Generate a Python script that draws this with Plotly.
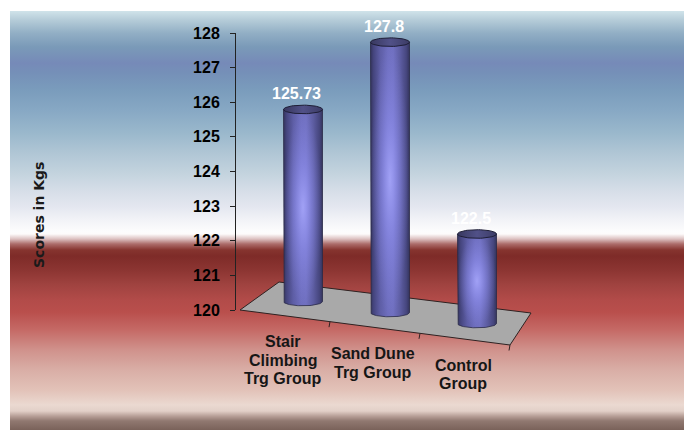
import numpy as np
import plotly.graph_objects as go

# ---- data -------------------------------------------------------------
categories = ["Stair<br>Climbing<br>Trg Group", "Sand Dune<br>Trg Group", "Control<br>Group"]
scores = [125.73, 127.8, 122.5]
score_labels = ["125.73", "127.8", "122.5"]
tick_values = [120, 121, 122, 123, 124, 125, 126, 127, 128]
y_title = "Scores in Kgs"

# ---- drawing coordinate system ---------------------------------------
W, H = 684, 430
BASE = 120
CAT_PX = 90.0          # pixels per category step
VAL_PX = 34.625        # pixels per score unit
ORIGIN_X_PX = 285.0    # screen x of the first category on the front edge
BASE_Y_PX = 310.0      # screen y of the base value on the value axis

x_range = [-ORIGIN_X_PX / CAT_PX, (W - ORIGIN_X_PX) / CAT_PX]
y_range = [BASE - (H - BASE_Y_PX) / VAL_PX, BASE + BASE_Y_PX / VAL_PX]


def px_x(px):
    return x_range[0] + px / CAT_PX


def px_y(py):
    return y_range[1] - py / VAL_PX


# simple oblique projection of the 3-D floor
N = len(scores)
FLOOR_L, FLOOR_R = -0.5, N - 0.5
FRONT_DROP = 11.67 / VAL_PX                 # front edge falls per category
DEPTH_DX = (39 / CAT_PX, 21 / CAT_PX)       # depth vector, left / right end
DEPTH_DY = (28 / VAL_PX, 32 / VAL_PX)
PERSP = (0.968, 0.033)                      # height scale grows to the right


def lerp(a, b, t):
    return a + (b - a) * t


def floor_point(c, d):
    t = (c - FLOOR_L) / (FLOOR_R - FLOOR_L)
    return (c + d * lerp(*DEPTH_DX, t),
            BASE - FRONT_DROP * (c - FLOOR_L) + d * lerp(*DEPTH_DY, t))


fig = go.Figure()

# ---- background panel with banded gradient ---------------------------
bg_stops = [  # (screen y, colour), top to bottom
    (11, "#d0e3ea"), (20, "#b5ccd8"), (33, "#92afc5"), (47, "#7a9ab8"),
    (63, "#768ab8"), (73, "#7590b8"), (90, "#7a9cbc"), (110, "#87a8c4"),
    (133, "#9ab8cc"), (153, "#b0c6d5"), (173, "#c3d3de"), (193, "#d8dfe9"),
    (207, "#e4e7f0"), (220, "#f2f3f7"), (231, "#fcfcfd"), (234, "#fdfbfb"),
    (239, "#dcc0c0"), (244, "#ac6c6a"), (250, "#86342f"), (256, "#7e2b28"),
    (270, "#8c3532"), (285, "#a04340"), (300, "#b24b49"), (312, "#b94f4c"),
    (330, "#c56a66"), (350, "#d0928c"), (370, "#d9aea6"), (390, "#e2c2b8"),
    (405, "#ebd9d1"), (411, "#e2d0c8"), (416, "#b8a098"), (421, "#907870"),
    (430, "#7a625a"),
]
top_py, bot_py = bg_stops[0][0], bg_stops[-1][0]
bg_scale = [[(bot_py - py) / (bot_py - top_py), col] for py, col in reversed(bg_stops)]
bx0, bx1 = px_x(10), px_x(W + 20)
by0, by1 = px_y(bot_py + 10), px_y(top_py)
fig.add_trace(go.Scatter(
    x=[bx0, bx1, bx1, bx0, bx0], y=[by0, by0, by1, by1, by0],
    mode="lines", fill="toself", line=dict(width=0),
    fillgradient=dict(type="vertical", colorscale=bg_scale,
                      start=px_y(bot_py), stop=by1),
    hoverinfo="skip", showlegend=False))

# ---- floor -------------------------------------------------------------
corners = [floor_point(FLOOR_L, 0), floor_point(FLOOR_R, 0),
           floor_point(FLOOR_R, 1), floor_point(FLOOR_L, 1), floor_point(FLOOR_L, 0)]
fig.add_trace(go.Scatter(
    x=[p[0] for p in corners], y=[p[1] for p in corners],
    mode="lines", fill="toself", fillcolor="#a9a9a9",
    line=dict(color="#2e2222", width=1), hoverinfo="skip", showlegend=False))

# category tick marks on the front edge
tx, ty = [], []
for b in np.arange(FLOOR_L + 1, FLOOR_R + 0.5, 1.0):
    fx, fy = floor_point(b, 0)
    tx += [fx, fx - 1 / CAT_PX, None]
    ty += [fy, fy - 5.5 / VAL_PX, None]
fig.add_trace(go.Scatter(x=tx, y=ty, mode="lines", line=dict(color="#2e2222", width=1),
                         hoverinfo="skip", showlegend=False))

# ---- cylinders ---------------------------------------------------------
R_X = 19.5 / CAT_PX
R_Y = 4.3 / VAL_PX
body_scale = [[0, "#34345c"], [0.08, "#45457e"], [0.25, "#5e5ea6"], [0.45, "#6e6ebe"],
              [0.58, "#7070c0"], [0.76, "#5d5da2"], [0.92, "#46467e"], [1, "#34345c"]]
glow_scale = [[0, "rgba(170,170,255,0.85)"], [0.45, "rgba(152,152,252,0.45)"],
              [1, "rgba(140,140,240,0)"]]
lid_scale = [[0, "#38385f"], [0.5, "#515188"], [1, "#3c3c66"]]

LINE_GAP = 18.5 / VAL_PX   # spacing of category label lines
annotations = []
for i, v in enumerate(scores):
    cx, cy = floor_point(i, 0.5)
    top = cy + (v - BASE) * (PERSP[0] + PERSP[1] * i)
    arc = np.linspace(np.pi, 2 * np.pi, 48)
    body_x = [cx - R_X] + list(cx + R_X * np.cos(arc)) + [cx + R_X, cx - R_X]
    body_y = [top] + list(cy + R_Y * np.sin(arc)) + [top, top]
    fig.add_trace(go.Scatter(
        x=body_x, y=body_y, mode="lines", fill="toself",
        fillgradient=dict(type="horizontal", colorscale=body_scale),
        line=dict(color="#2a2a48", width=0.8), hoverinfo="skip", showlegend=False))
    fig.add_trace(go.Scatter(
        x=body_x, y=body_y, mode="lines", fill="toself",
        fillgradient=dict(type="radial", colorscale=glow_scale),
        line=dict(width=0), hoverinfo="skip", showlegend=False))
    ring = np.linspace(0, 2 * np.pi, 64)
    fig.add_trace(go.Scatter(
        x=cx + R_X * np.cos(ring), y=top + R_Y * np.sin(ring), mode="lines", fill="toself",
        fillgradient=dict(type="horizontal", colorscale=lid_scale),
        line=dict(color="#1e1e36", width=1), hoverinfo="skip", showlegend=False))

    annotations.append(dict(
        x=cx - 6.5 / CAT_PX, y=top + 15.5 / VAL_PX, xref="x", yref="y",
        text=score_labels[i], showarrow=False,
        font=dict(family="Arial", size=16, color="white", weight="bold")))

    # category label, one line at a time below the front edge
    fx, fy = floor_point(i, 0)
    for k, line in enumerate(categories[i].split("<br>")):
        annotations.append(dict(
            x=fx, y=fy - 26 / VAL_PX - k * LINE_GAP, xref="x", yref="y",
            xanchor="center", yanchor="middle", xshift=-2,
            text=line, showarrow=False,
            font=dict(family="Arial", size=16, color="#161616", weight="bold")))

annotations.append(dict(
    x=39 / W, y=1 - 215 / H, xref="paper", yref="paper", text=y_title,
    textangle=-90, showarrow=False, xanchor="center", yanchor="middle",
    font=dict(family="DejaVu Sans", size=14, color="#1a1a1a", weight="bold")))

# value axis lives on its own subplot, spanning 120..128 only
fig.add_trace(go.Scatter(x=[0], y=[BASE], xaxis="x2", yaxis="y2", mode="markers",
                         marker=dict(opacity=0), hoverinfo="skip", showlegend=False))

fig.update_layout(
    width=W, height=H,
    margin=dict(l=0, r=0, t=0, b=0, autoexpand=False),
    paper_bgcolor="white", plot_bgcolor="rgba(0,0,0,0)",
    showlegend=False,
    xaxis=dict(range=x_range, visible=False, domain=[0, 1], automargin=False),
    yaxis=dict(range=y_range, visible=False, domain=[0, 1], automargin=False),
    xaxis2=dict(domain=[236 / W, 1], anchor="y2", visible=False, range=[0, 1],
                automargin=False),
    yaxis2=dict(domain=[(H - BASE_Y_PX) / H, (H - 33) / H], anchor="x2",
                range=[tick_values[0], tick_values[-1]], tickvals=tick_values,
                showline=True, linecolor="#222222", linewidth=1, automargin=False,
                ticks="outside", ticklen=5, tickcolor="#222222", tickwidth=1,
                ticklabelstandoff=7, showgrid=False, zeroline=False,
                tickfont=dict(family="Arial", size=16, color="black", weight="bold")),
    annotations=annotations,
)

fig.write_html("out.html")
